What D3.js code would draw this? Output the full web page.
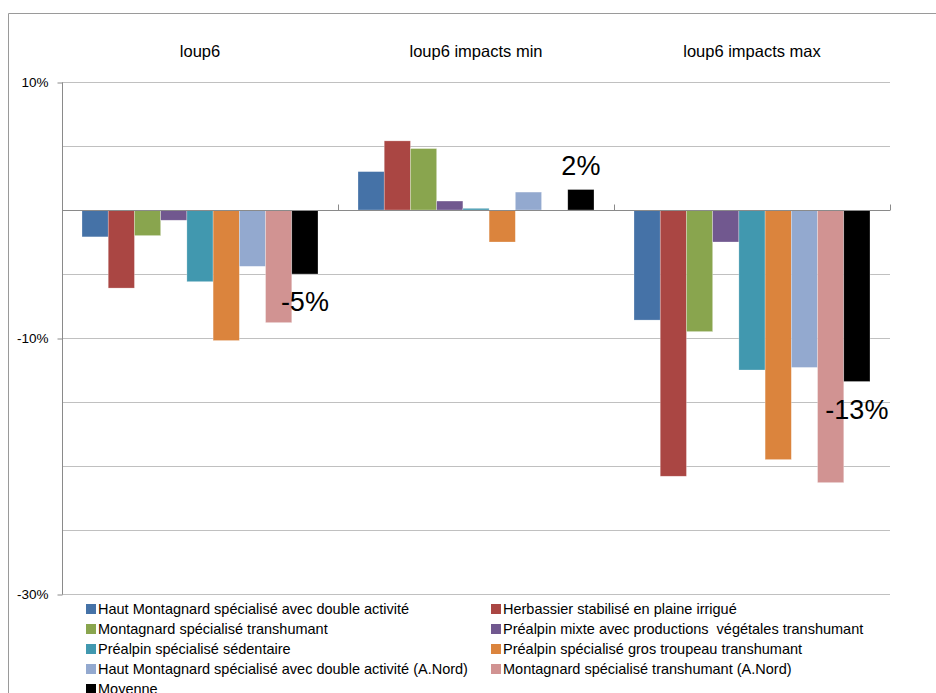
<!DOCTYPE html>
<html><head><meta charset="utf-8">
<script src="https://cdn.jsdelivr.net/npm/d3@7"></script>
<style>
html,body{margin:0;padding:0;background:#fff;}
svg{display:block;font-family:"Liberation Sans",Arial,sans-serif;}
</style></head>
<body>
<svg id="chart" width="936" height="693"></svg>
<script>
const categories = ["loup6", "loup6 impacts min", "loup6 impacts max"];
const seriesNames = [
  "Haut Montagnard spécialisé avec double activité",
  "Herbassier stabilisé en plaine irrigué",
  "Montagnard spécialisé transhumant",
  "Préalpin mixte avec productions  végétales transhumant",
  "Préalpin spécialisé sédentaire",
  "Préalpin spécialisé gros troupeau transhumant",
  "Haut Montagnard spécialisé avec double activité (A.Nord)",
  "Montagnard spécialisé transhumant (A.Nord)",
  "Moyenne"
];
const seriesColors = ["#4572A7","#AA4643","#89A54E","#71588F","#4198AF","#DB843D","#93A9CF","#D19392","#000000"];
// values per series: [loup6, impacts min, impacts max]
const vHautMont      = [-0.021,  0.030, -0.086];
const vHerbassier    = [-0.061,  0.054, -0.208];
const vMontagnard    = [-0.020,  0.048, -0.095];
const vPrealpMixte   = [-0.008,  0.007, -0.025];
const vPrealpSed     = [-0.056,  0.0013, -0.125];
const vPrealpGros    = [-0.102, -0.025, -0.195];
const vHautMontNord  = [-0.044,  0.014, -0.123];
const vMontNord      = [-0.088, -0.0003, -0.213];
const vMoyenne       = [-0.050,  0.016, -0.134];
const seriesValues = [vHautMont, vHerbassier, vMontagnard, vPrealpMixte, vPrealpSed, vPrealpGros, vHautMontNord, vMontNord, vMoyenne];
const yGridTicks = [-0.30,-0.25,-0.20,-0.15,-0.10,-0.05,0,0.05,0.10];
const yLabelTicks = [-0.30,-0.10,0.10];
const labeledSeries = [8];

const svg = d3.select("#chart");
const plot = {left:62, right:890, top:82, bottom:594};

const x0 = d3.scaleBand().domain(categories).range([plot.left, plot.right]).padding(0);
const x1 = d3.scaleBand().domain(d3.range(seriesNames.length)).range([20, x0.bandwidth()-20]).padding(0);
const y = d3.scaleLinear().domain([-0.30, 0.10]).range([plot.bottom, plot.top]);
const loc = d3.formatLocale({decimal:".", thousands:",", grouping:[3], currency:["",""], minus:"-"});
const fmt = loc.format(".0%");

// outer border
svg.append("path").attr("d","M8.5,693V13.5H936").attr("fill","none").attr("stroke","#9a9a9a").attr("stroke-width",1);

// gridlines
svg.append("g").selectAll("line").data(yGridTicks.filter(d=>d!==0)).join("line")
  .attr("x1",plot.left).attr("x2",plot.right)
  .attr("y1",d=>Math.round(y(d))+0.5).attr("y2",d=>Math.round(y(d))+0.5)
  .attr("stroke","#c0c0c0").attr("stroke-width",1);

// y axis
const yAxis = d3.axisLeft(y).tickValues(yLabelTicks).tickFormat(fmt).tickSize(5).tickPadding(9);
const ga = svg.append("g").attr("transform",`translate(${plot.left+0.5},0.5)`).call(yAxis);
ga.select(".domain").attr("stroke","#8a8a8a").attr("d",`M0,${plot.top}V${plot.bottom}`);
ga.selectAll(".tick line").attr("stroke","#8a8a8a");
ga.selectAll(".tick text").attr("font-size",13.5).attr("fill","#000").attr("font-family","Liberation Sans, Arial, sans-serif");

// bars
const groups = svg.append("g").selectAll("g").data(categories).join("g")
  .attr("transform",d=>`translate(${x0(d)},0)`);
groups.each(function(cat,ci){
  const g = d3.select(this);
  seriesValues.forEach((vals,si)=>{
    const v = vals[ci];
    g.append("rect")
      .attr("x",x1(si)).attr("width",x1.bandwidth())
      .attr("y",y(Math.max(0,v))).attr("height",Math.abs(y(v)-y(0)))
      .attr("fill",seriesColors[si])
      .attr("stroke","rgba(255,255,255,0.45)").attr("stroke-width",0.6);
  });
});

// zero (category) axis line with tick marks
const zy = Math.round(y(0))+0.5;
svg.append("line").attr("x1",plot.left).attr("x2",plot.right).attr("y1",zy).attr("y2",zy)
  .attr("stroke","#8a8a8a").attr("stroke-width",1);
svg.append("g").selectAll("line").data(categories.map(c=>x0(c)).concat([plot.right])).join("line")
  .attr("x1",d=>Math.round(d)+0.5).attr("x2",d=>Math.round(d)+0.5)
  .attr("y1",zy).attr("y2",zy-6).attr("stroke","#8a8a8a");

// category titles
svg.append("g").selectAll("text").data(categories).join("text")
  .attr("x",d=>x0(d)+x0.bandwidth()/2).attr("y",57)
  .attr("text-anchor","middle").attr("font-size",16.5).attr("fill","#000").text(d=>d);

// data labels
labeledSeries.forEach(si=>{
  categories.forEach((cat,ci)=>{
    const v = seriesValues[si][ci];
    const cx = x0(cat)+x1(si)+x1.bandwidth()/2;
    const yy = v>=0 ? y(v)-15 : y(v)+37;
    svg.append("text").attr("x",cx).attr("y",yy).attr("text-anchor","middle")
      .attr("font-size",27).attr("fill","#000").text(fmt(v));
  });
});

// legend
const legCols = [86, 491];
const leg = svg.append("g").selectAll("g").data(seriesNames).join("g")
  .attr("transform",(d,i)=>`translate(${legCols[i%2]},${609+20*Math.floor(i/2)})`);
leg.append("rect").attr("x",0).attr("y",-5).attr("width",10).attr("height",10).attr("fill",(d,i)=>seriesColors[i]);
leg.append("text").attr("x",12).attr("y",5).attr("font-size",14.5).attr("fill","#000")
  .attr("xml:space","preserve").style("white-space","pre").text(d=>d);
</script>
</body></html>
